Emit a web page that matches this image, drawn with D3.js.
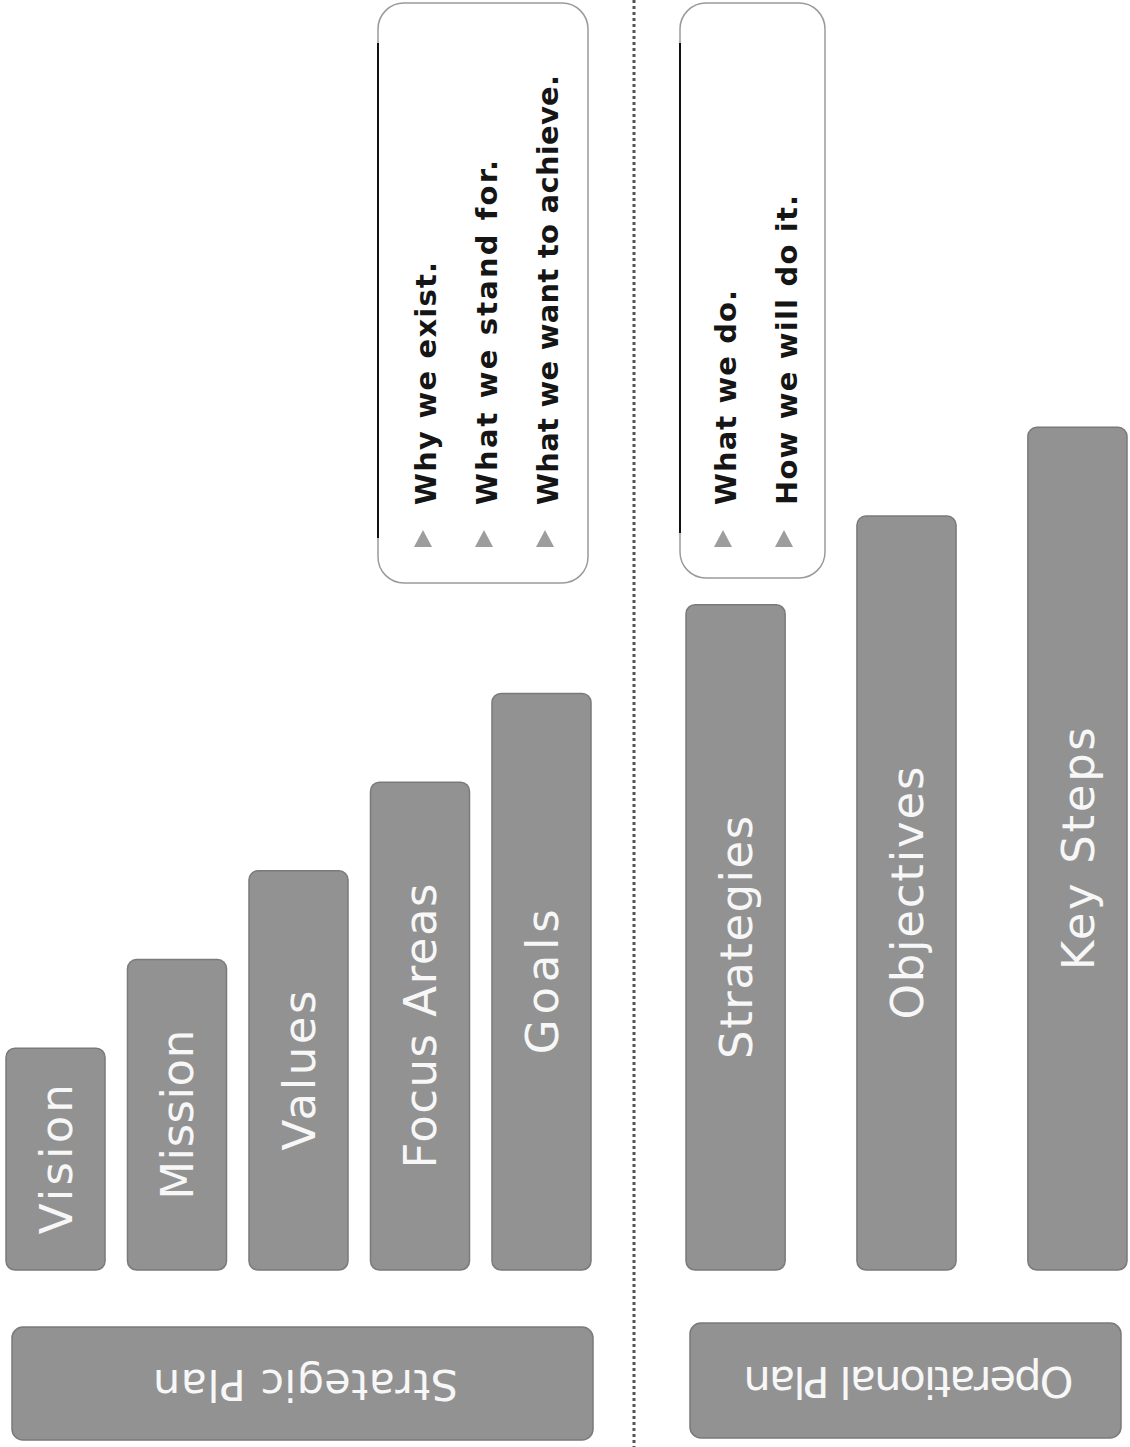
<html>
  <head>
    <title>Strategic and Operational Plan</title>
    <style>
      body { margin: 0; background: #ffffff; }
    </style>
  </head>
  <body>
    <script src="https://d3js.org/d3.v7.min.js"></script>
    <script>
      // Categories and bar heights (in steps) for each plan
      var strategicSteps = ['Vision', 'Mission', 'Values', 'Focus Areas', 'Goals'];
      var strategicHeights = [2.5, 3.5, 4.5, 5.5, 6.5];
      var operationalSteps = ['Strategies', 'Objectives', 'Key Steps'];
      var operationalHeights = [7.5, 8.5, 9.5];

      // Group labels
      var planLabels = ['Strategic Plan', 'Operational Plan'];

      // Callout notes
      var strategicNotes = ['Why we exist.', 'What we stand for.', 'What we want to achieve.'];
      var operationalNotes = ['What we do.', 'How we will do it.'];

      var WIDTH = 1130;
      var HEIGHT = 1447;
      var BASELINE = 1270; // px
      var BAR_FILL = '#929292';
      var BAR_STROKE = '#7a7a7a';
      var LABEL_FONT = '"DejaVu Sans", sans-serif';
      var NOTE_FONT = '"DejaVu Sans", Arial, sans-serif';

      var svg = d3.select('body')
        .append('svg')
        .attr('width', WIDTH)
        .attr('height', HEIGHT);

      // Height scale (step count -> px)
      var y = d3.scaleLinear()
        .domain([0, 10])
        .range([BASELINE, BASELINE - 887]);

      var xStrategic = d3.scaleBand()
        .domain(strategicSteps)
        .range([6, 591])
        .paddingInner(0.185);

      var xOperational = d3.scaleBand()
        .domain(operationalSteps)
        .range([686, 1127])
        .paddingInner(0.42);

      // label text lengths, roughly matching the wide geometric face
      var labelLength = {
        'Vision': 150, 'Mission': 170, 'Values': 160, 'Focus Areas': 285, 'Goals': 145,
        'Strategies': 243, 'Objectives': 253, 'Key Steps': 243
      };

      function drawBars(steps, heights, x) {
        var g = svg.append('g');
        var data = steps.map(function(s, i) { return {name: s, value: heights[i]}; });

        g.selectAll('rect')
          .data(data)
          .enter()
          .append('rect')
          .attr('x', function(d) { return x(d.name); })
          .attr('y', function(d) { return y(d.value); })
          .attr('width', x.bandwidth())
          .attr('height', function(d) { return y(0) - y(d.value); })
          .attr('rx', 9)
          .style('fill', BAR_FILL)
          .style('stroke', BAR_STROKE)
          .style('stroke-width', 1.5);

        g.selectAll('text')
          .data(data)
          .enter()
          .append('text')
          .attr('transform', function(d) {
            var cx = x(d.name) + x.bandwidth() / 2;
            var cy = (y(d.value) + y(0)) / 2;
            return 'translate(' + cx + ',' + cy + ') rotate(-90)';
          })
          .attr('text-anchor', 'middle')
          .attr('dy', '0.36em')
          .attr('textLength', function(d) { return labelLength[d.name]; })
          .attr('lengthAdjust', 'spacing')
          .attr('font-family', LABEL_FONT)
          .attr('font-size', '45px')
          .style('fill', '#f7f7f7')
          .text(function(d) { return d.name; });
      }

      drawBars(strategicSteps, strategicHeights, xStrategic);
      drawBars(operationalSteps, operationalHeights, xOperational);

      // Dotted divider
      svg.append('line')
        .attr('x1', 634).attr('x2', 634)
        .attr('y1', 0).attr('y2', HEIGHT)
        .style('stroke', '#555')
        .style('stroke-width', 3)
        .style('stroke-dasharray', '3,3');

      // Plan label boxes (text upside down)
      var planBoxes = [
        {x: 12, y: 1327, w: 581, h: 113, len: 305},
        {x: 690, y: 1323, w: 431, h: 115, len: 330}
      ];
      planBoxes.forEach(function(b, i) {
        svg.append('rect')
          .attr('x', b.x).attr('y', b.y)
          .attr('width', b.w).attr('height', b.h)
          .attr('rx', 11)
          .style('fill', BAR_FILL)
          .style('stroke', BAR_STROKE)
          .style('stroke-width', 1.5);
        svg.append('text')
          .attr('transform', 'translate(' + (b.x + b.w / 2 + 3) + ',' + (b.y + b.h / 2 + 2) + ') rotate(180)')
          .attr('text-anchor', 'middle')
          .attr('dy', '0.36em')
          .attr('textLength', b.len)
          .attr('lengthAdjust', 'spacing')
          .attr('font-family', LABEL_FONT)
          .attr('font-size', '43px')
          .style('fill', '#f7f7f7')
          .text(planLabels[i]);
      });

      // Callout boxes
      var noteLength = {
        'Why we exist.': 243, 'What we stand for.': 345, 'What we want to achieve.': 430,
        'What we do.': 215, 'How we will do it.': 310
      };

      function drawCallout(notes, box, firstLine) {
        var g = svg.append('g');
        g.append('rect')
          .attr('x', box.x).attr('y', box.y)
          .attr('width', box.w).attr('height', box.h)
          .attr('rx', 26)
          .style('fill', '#fff')
          .style('stroke', '#9a9a9a')
          .style('stroke-width', 1.5);
        g.append('line')
          .attr('x1', box.x).attr('x2', box.x)
          .attr('y1', box.y + 40).attr('y2', box.y + box.h - 45)
          .style('stroke', '#111')
          .style('stroke-width', 2);

        var lines = g.selectAll('g.note')
          .data(notes)
          .enter()
          .append('g')
          .attr('class', 'note')
          .attr('transform', function(d, i) { return 'translate(' + (firstLine + i * 61) + ',0)'; });

        lines.append('path')
          .attr('d', 'M-22,547 L-13,530 L-4,547 Z')
          .style('fill', '#9d9d9d');

        lines.append('text')
          .attr('transform', 'translate(0,505) rotate(-90)')
          .attr('textLength', function(d) { return noteLength[d]; })
          .attr('lengthAdjust', 'spacing')
          .attr('font-family', NOTE_FONT)
          .attr('font-weight', 'bold')
          .attr('font-size', '29px')
          .style('fill', '#151515')
          .text(function(d) { return d; });
      }

      drawCallout(strategicNotes, {x: 378, y: 3, w: 210, h: 580}, 436);
      drawCallout(operationalNotes, {x: 680, y: 3, w: 145, h: 575}, 736);
    </script>
  </body>
</html>
